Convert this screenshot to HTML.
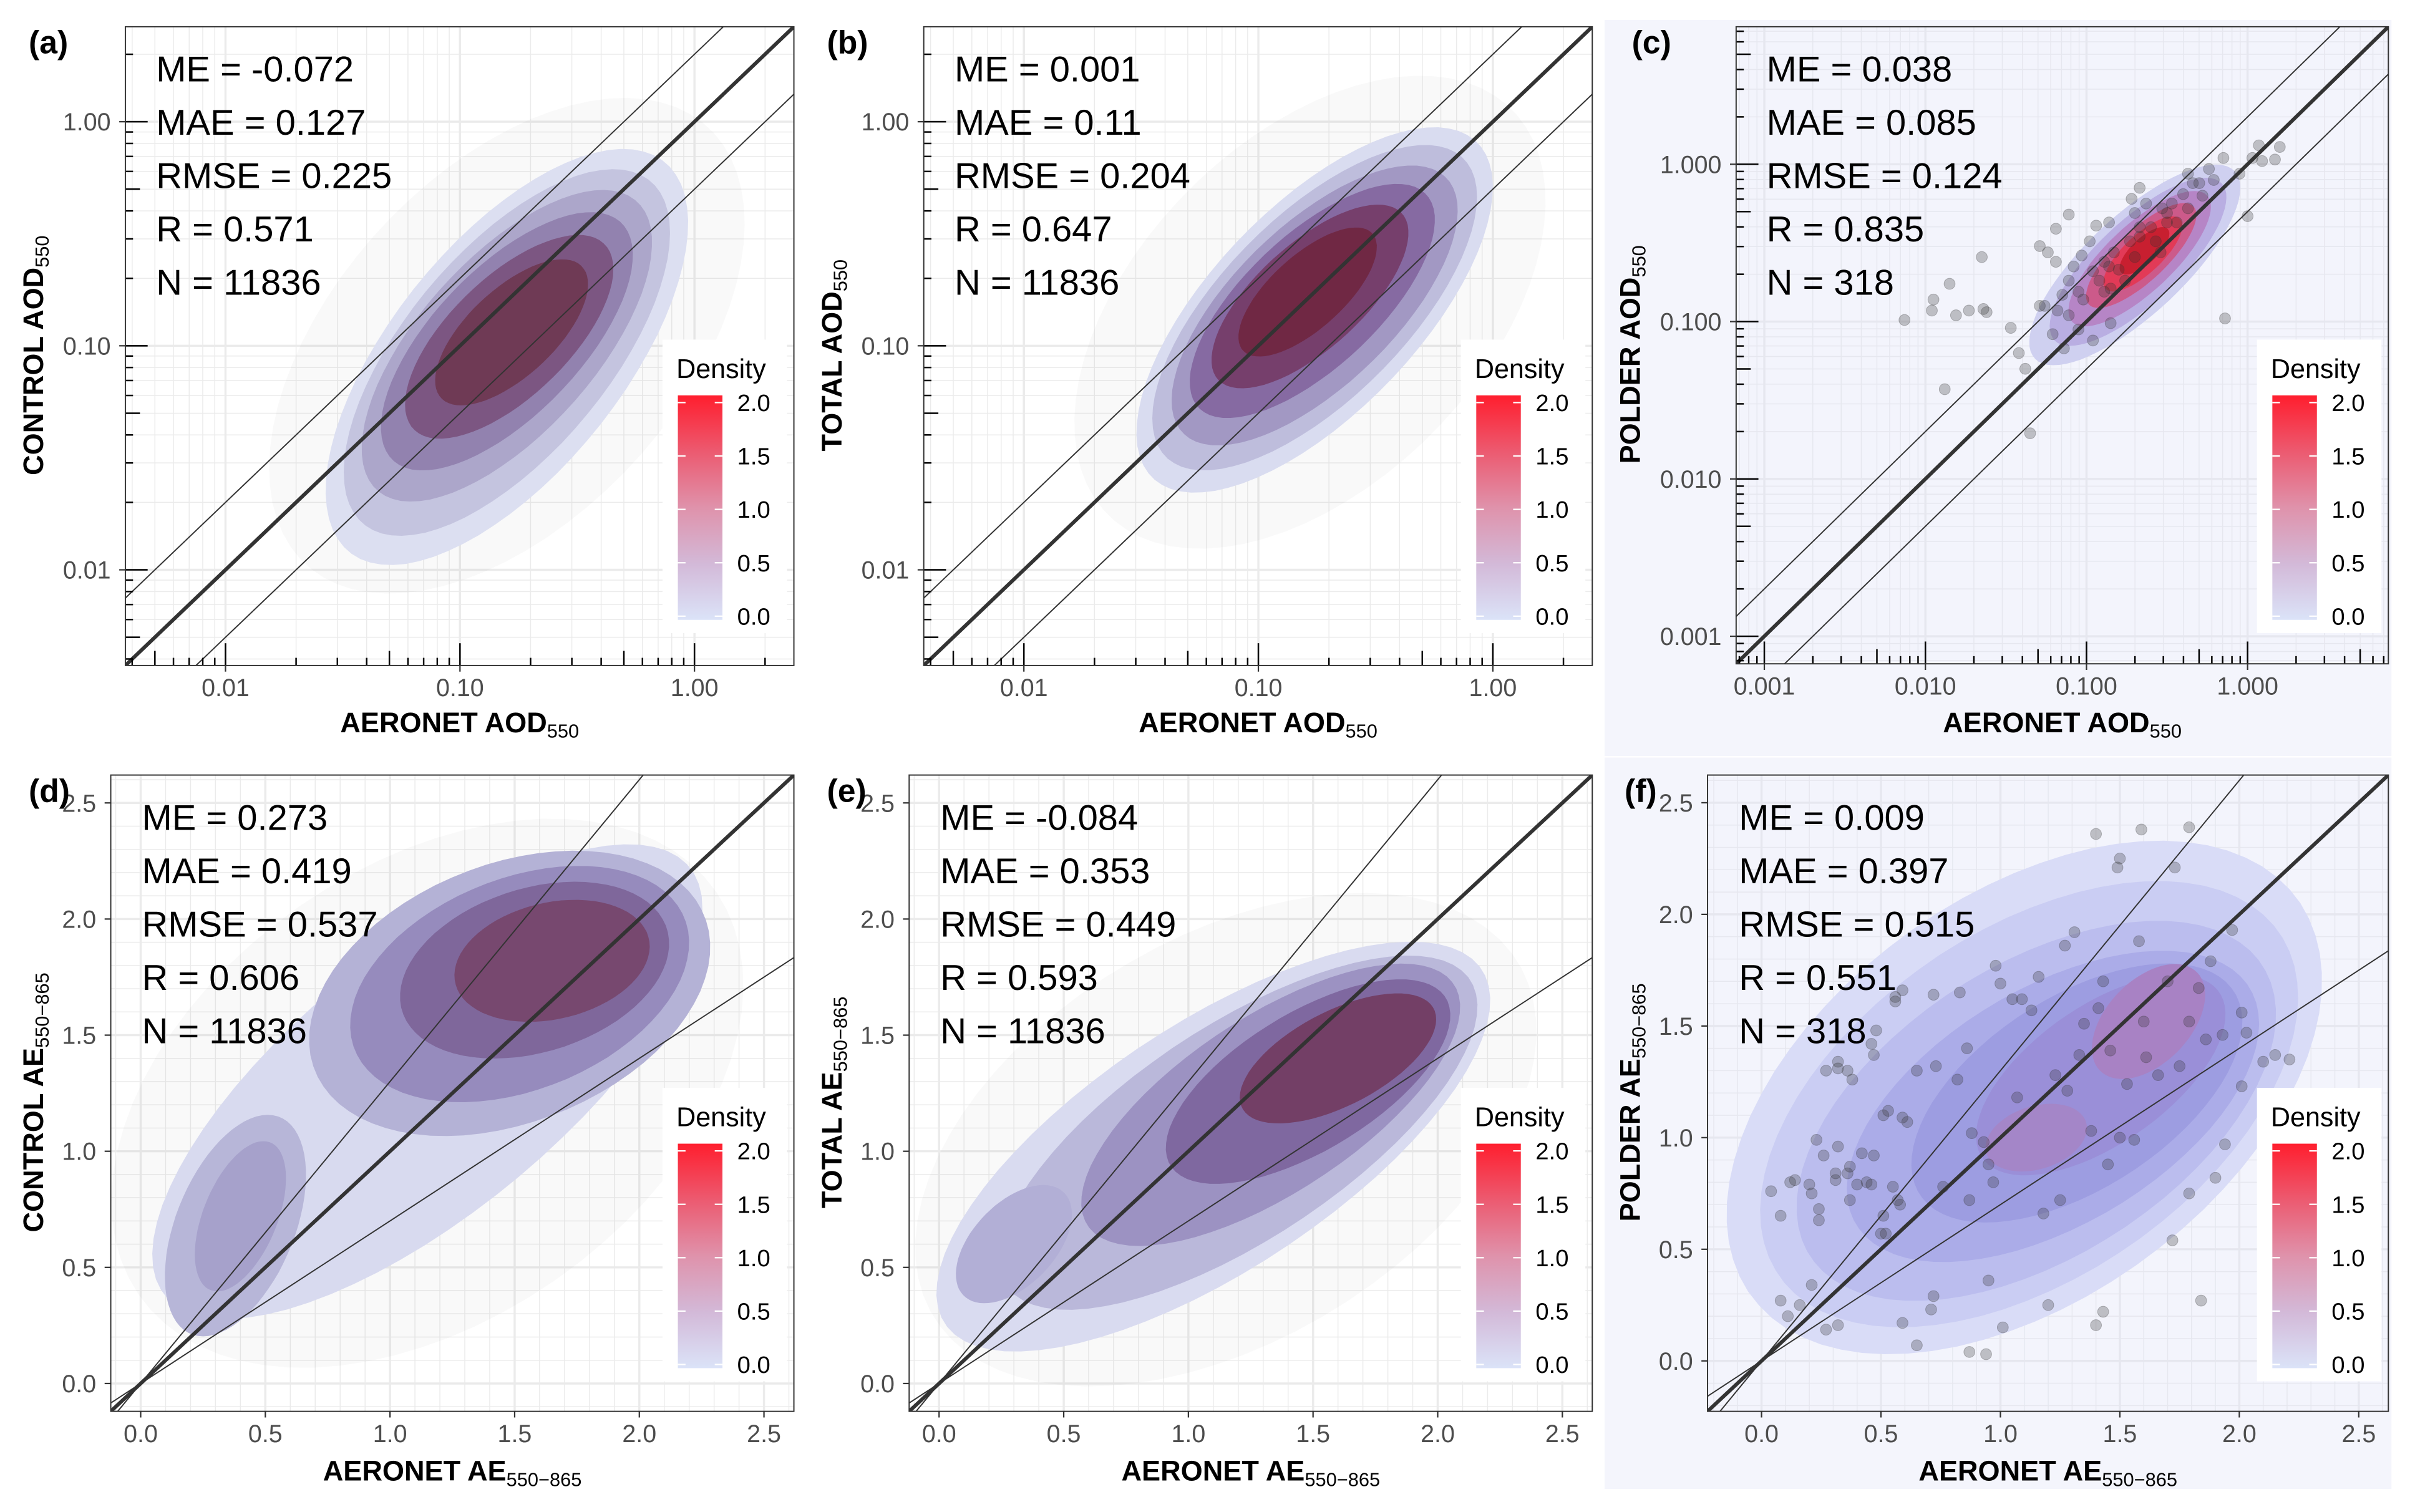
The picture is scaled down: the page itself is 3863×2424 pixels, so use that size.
<!DOCTYPE html>
<html><head><meta charset="utf-8"><title>Evaluation scatter density panels</title>
<style>
html,body{margin:0;padding:0;background:#fff;width:3863px;height:2424px;overflow:hidden;}
svg{display:block;font-family:"Liberation Sans",Arial,sans-serif;}
</style></head>
<body>
<svg id="fig" xmlns="http://www.w3.org/2000/svg" width="3863" height="2424" viewBox="0 0 1568 984">
<defs>
<linearGradient id="densGrad" x1="0" y1="1" x2="0" y2="0">
<stop offset="0" stop-color="#dbe3f8"/>
<stop offset="0.25" stop-color="#d3b9d8"/>
<stop offset="0.5" stop-color="#df92ab"/>
<stop offset="0.75" stop-color="#ec5a70"/>
<stop offset="1" stop-color="#ff1e2e"/>
</linearGradient>
</defs>
</svg>
<script>
// ---------- data ----------
const panelLetters = ['(a)','(b)','(c)','(d)','(e)','(f)'];
const yTitles = ['CONTROL AOD','TOTAL AOD','POLDER AOD','CONTROL AE','TOTAL AE','POLDER AE'];
const statsME = ['-0.072','0.001','0.038','0.273','-0.084','0.009'];
const statsMAE = ['0.127','0.11','0.085','0.419','0.353','0.397'];
const statsRMSE = ['0.225','0.204','0.124','0.537','0.449','0.515'];
const statsR = ['0.571','0.647','0.835','0.606','0.593','0.551'];
const statsN = ['11836','11836','318','11836','11836','318'];
const logTicksAB = [0.01, 0.1, 1];
const logTickLabelsAB = ['0.01','0.10','1.00'];
const logTicksC = [0.001, 0.01, 0.1, 1];
const logTickLabelsC = ['0.001','0.010','0.100','1.000'];
const linTicks = [0, 0.5, 1, 1.5, 2, 2.5];
const linTickLabels = ['0.0','0.5','1.0','1.5','2.0','2.5'];
const legendValues = [0, 0.5, 1, 1.5, 2];
const legendLabels = ['0.0','0.5','1.0','1.5','2.0'];
// density contour levels: [cx, cy, a, b, angleDeg] (log10 units for AOD, linear for AE)
const contoursA = [[-0.80,-1.05,1.10,0.50,53],[-0.80,-1.03,0.98,0.44,52],[-0.80,-1.00,0.85,0.38,50],[-0.80,-0.98,0.72,0.32,48],[-0.79,-0.96,0.58,0.26,46],[-0.78,-0.94,0.42,0.19,45]];
const contoursB = [[-0.76,-0.84,1.02,0.45,48],[-0.76,-0.83,0.92,0.40,47],[-0.76,-0.82,0.80,0.35,46],[-0.77,-0.80,0.68,0.29,45],[-0.78,-0.78,0.54,0.23,44],[-0.79,-0.76,0.38,0.16,44]];
const contoursC = [[-0.70,-0.64,0.86,0.31,44],[-0.68,-0.62,0.72,0.26,44],[-0.67,-0.60,0.58,0.21,44],[-0.66,-0.58,0.45,0.16,44],[-0.65,-0.57,0.32,0.12,44],[-0.64,-0.55,0.20,0.08,44]];
const contoursD = [[1.15,1.30,1.40,0.55,42],[0.38,0.68,0.50,0.24,70],[1.48,1.68,0.85,0.55,25],[0.40,0.72,0.34,0.15,70],[1.52,1.72,0.72,0.45,25],[1.58,1.78,0.56,0.35,20],[1.65,1.82,0.40,0.25,15]];
const contoursE = [[1.10,1.02,1.32,0.52,36],[1.20,1.08,1.14,0.45,36],[0.30,0.60,0.30,0.17,50],[1.33,1.20,0.90,0.37,36],[1.48,1.30,0.66,0.29,34],[1.60,1.40,0.44,0.20,30]];
const contoursF = [[1.10,1.18,1.45,0.88,40],[1.12,1.15,1.30,0.76,38],[1.15,1.12,1.15,0.64,36],[1.22,1.14,0.98,0.52,34],[1.32,1.20,0.80,0.42,36],[1.42,1.28,0.62,0.30,38],[1.62,1.52,0.30,0.18,50],[1.15,1.00,0.22,0.14,20]];
const colorsA = ['#dcdff1','#c4c4df','#aca6ca','#9282af','#7c5682','#6f3a55'];
const colorsB = ['#d9dcf0','#bebddc','#a298c3','#866aa2','#763f6c','#702844'];
const colorsC = ['#cfd0f0','#b9aee2','#b685c6','#cc5a8a','#e23a57','#c81f30'];
const colorsD = ['#d8daef','#b7b6d8','#b4b2d6','#a6a1cb','#968bbd','#7f679b','#77486f'];
const colorsE = ['#d9dbf0','#bab8da','#b2afd6','#9c92c2','#7f68a0','#733f66'];
const colorsF = ['#d9dcf7','#cacdf3','#bbbdee','#abace8','#9d9de1','#9a8fd8','#a882c4','#a486c8'];
// faint point-cloud extent (many translucent points)
const haloA = [-0.80,-1.00,1.30,0.75,50];
const haloB = [-0.78,-0.85,1.25,0.75,48];
const haloD = [1.15,1.25,1.45,0.95,40];
const haloE = [1.15,1.05,1.40,0.85,35];
// POLDER AOD points (log10 x, log10 y)
const pointsCx = [-2.13,-1.96,-1.95,-1.85,-1.81,-1.73,-1.65,-1.64,-1.62,-1.47,-1.42,-1.38,-1.35,-1.88,-1.29,-1.24,-1.19,-1.19,-1.11,-0.14,0.00,0.07,0.03,0.20,0.17,0.09,-0.15,-0.05,-0.94,-0.86,-0.67,-0.72,-1.21,-1.11,-1.05,-0.96,-0.89,-0.83,-0.73,-0.67,-0.60,-0.53,-0.47,-0.40,-0.34,-0.30,-0.89,-0.76,-1.02,-0.70,-0.57,-0.50,-0.44,-0.85,-0.98,-1.08,-1.15,-1.26,-1.29,-0.67,-0.54,-0.86,-0.50,-0.37,-0.28,-0.21,-0.24,-0.37,-0.63,-0.70,-0.80,-0.92,-1.05,-1.14,-0.96,-0.85,-1.18,-1.11,-1.03];
const pointsCy = [-0.99,-0.93,-0.86,-0.76,-0.96,-0.93,-0.59,-0.92,-0.94,-1.04,-1.20,-1.30,-1.71,-1.43,-0.52,-0.56,-0.41,-0.62,-0.32,-0.98,-0.33,0.12,0.04,0.11,0.03,0.02,0.04,-0.06,-0.39,-0.37,-0.15,-0.22,-1.08,-0.96,-0.81,-0.68,-0.62,-0.56,-0.49,-0.46,-0.40,-0.28,-0.25,-0.19,-0.12,-0.12,-0.81,-0.74,-0.86,-0.59,-0.49,-0.31,-0.37,-0.79,-0.49,-0.65,-0.83,-0.90,-0.90,-0.40,-0.56,-0.65,-0.37,-0.28,-0.20,-0.10,-0.03,-0.06,-0.25,-0.31,-0.67,-0.74,-1.05,-1.17,-1.12,-1.01,-0.93,-0.74,-0.58];
// POLDER AE points
const pointsFx = [0.04,0.08,0.12,0.14,0.20,0.21,0.23,0.24,0.24,0.26,0.27,0.32,0.32,0.36,0.38,0.31,0.31,0.36,0.37,0.32,0.37,0.40,0.44,0.42,0.47,0.46,0.52,0.51,0.50,0.55,0.57,0.58,0.51,0.53,0.59,0.61,0.65,0.59,0.56,0.56,0.47,0.46,0.48,0.72,0.73,0.76,0.82,0.83,0.86,0.87,0.88,0.93,0.95,0.97,0.98,1.00,1.05,1.07,1.09,1.13,1.16,1.18,1.23,1.25,1.28,1.27,1.31,1.33,1.35,1.38,1.41,1.43,1.45,1.46,1.50,1.53,1.56,1.58,1.60,1.61,1.66,1.70,1.75,1.79,1.83,1.86,1.88,1.93,2.10,0.08,0.11,0.16,0.21,0.27,0.32,0.59,0.65,0.87,0.94,1.01,0.72,0.71,0.95,1.20,1.40,1.43,1.84,1.72,1.79,1.90,1.94,2.01,2.15,2.21,2.03,2.01,1.97,1.73,1.59,1.79,1.49,1.40,1.50];
const pointsFy = [0.76,0.65,0.80,0.81,0.79,0.75,0.99,0.63,0.68,0.92,1.30,1.31,1.34,1.30,1.26,0.84,0.81,0.84,0.72,0.96,0.87,0.79,0.80,0.93,0.92,0.79,0.57,0.65,0.57,0.78,0.72,0.70,1.10,1.12,1.09,1.07,1.30,1.66,1.61,1.63,1.37,1.42,1.48,1.64,1.32,0.78,1.26,1.65,1.40,0.72,1.02,0.98,0.88,0.80,1.77,1.69,1.62,1.18,1.62,1.57,1.72,0.66,1.28,0.72,1.21,1.86,1.92,1.37,1.51,1.03,1.58,1.70,0.88,1.39,1.00,1.24,0.99,1.88,1.52,1.36,1.28,1.70,1.32,1.52,1.67,1.44,1.79,1.46,1.34,0.27,0.20,0.25,0.34,0.14,0.16,0.17,0.07,0.04,0.03,0.15,0.29,0.23,0.36,0.25,0.16,0.22,0.27,0.54,0.75,0.82,0.97,1.23,1.37,1.35,1.47,1.56,1.93,2.21,2.38,2.39,2.21,2.36,2.25];

// ---------- layout ----------
const NS = 'http://www.w3.org/2000/svg';
const svg = document.getElementById('fig');
function mk(tag, attrs, parent) {
  const el = document.createElementNS(NS, tag);
  for (const k in attrs) el.setAttribute(k, attrs[k]);
  (parent || svg).appendChild(el);
  return el;
}
const panels = [
  {kind:'log', x0:81.5, x1:516.5, y0:17.4, y1:433.1, r:[-2.427,0.424], ticks:logTicksAB, labels:logTickLabelsAB, cont:contoursA, cols:colorsA, halo:haloA, bg:null},
  {kind:'log', x0:601, x1:1036, y0:17.4, y1:433.1, r:[-2.427,0.424], ticks:logTicksAB, labels:logTickLabelsAB, cont:contoursB, cols:colorsB, halo:haloB, bg:null},
  {kind:'log', x0:1129.6, x1:1554, y0:17.4, y1:432, r:[-3.175,0.874], ticks:logTicksC, labels:logTickLabelsC, cont:contoursC, cols:colorsC, halo:null, bg:[1044,13,512,479], px:pointsCx, py:pointsCy},
  {kind:'lin', x0:72, x1:516.5, y0:504.4, y1:918.5, r:[-0.12,2.62], ticks:linTicks, labels:linTickLabels, cont:contoursD, cols:colorsD, halo:haloD, bg:null},
  {kind:'lin', x0:591.5, x1:1036, y0:504.4, y1:918.5, r:[-0.12,2.62], ticks:linTicks, labels:linTickLabels, cont:contoursE, cols:colorsE, halo:haloE, bg:null},
  {kind:'lin', x0:1111, x1:1554, y0:504.4, y1:918.5, r:[-0.226,2.624], ticks:linTicks, labels:linTickLabels, cont:contoursF, cols:colorsF, halo:null, bg:[1044,493,512,476], px:pointsFx, py:pointsFy}
];
const stroke = '#333333';

panels.forEach((p, i) => {
  const isLog = p.kind === 'log';
  const tr = v => isLog ? Math.log10(v) : v;
  const sx = u => p.x0 + (u - p.r[0]) / (p.r[1] - p.r[0]) * (p.x1 - p.x0);
  const sy = v => p.y1 - (v - p.r[0]) / (p.r[1] - p.r[0]) * (p.y1 - p.y0);
  const shaded = !!p.bg;
  const g = mk('g', {});
  
  
  if (p.bg) {
    const bgr = mk('rect', {x:p.bg[0], y:p.bg[1], width:p.bg[2], height:p.bg[3], fill:'#f4f5fc'}, g);
    
    
  }
  const clipId = 'clip' + i;
  const cp = mk('clipPath', {id:clipId}, g);
  mk('rect', {x:p.x0, y:p.y0, width:p.x1-p.x0, height:p.y1-p.y0}, cp);
  const area = mk('rect', {x:p.x0, y:p.y0, width:p.x1-p.x0, height:p.y1-p.y0, fill: shaded ? '#f3f4fc' : '#ffffff'}, g);
  
  
  const inner = mk('g', {'clip-path':'url(#'+clipId+')'}, g);
  const gridCol = shaded ? '#e6e7ef' : '#ebebeb';
  const minorVals = [], majorVals = [];
  if (isLog) {
    for (let d = Math.floor(p.r[0]); d <= Math.ceil(p.r[1]); d++) {
      majorVals.push(d);
      for (let k = 2; k <= 9; k++) minorVals.push(d + Math.log10(k));
    }
  } else {
    for (let k = -3; k <= 27; k++) { if (k % 5 === 0) majorVals.push(k/10); else minorVals.push(k/10); }
  }
  minorVals.forEach(v => {
    const l1 = mk('line', {x1:sx(v), x2:sx(v), y1:p.y0, y2:p.y1, stroke:gridCol, 'stroke-width':0.6}, inner);
    
    
    const l2 = mk('line', {x1:p.x0, x2:p.x1, y1:sy(v), y2:sy(v), stroke:gridCol, 'stroke-width':0.6}, inner);
    
    
  });
  majorVals.forEach(v => {
    const l1 = mk('line', {x1:sx(v), x2:sx(v), y1:p.y0, y2:p.y1, stroke:gridCol, 'stroke-width':1.4}, inner);
    
    
    const l2 = mk('line', {x1:p.x0, x2:p.x1, y1:sy(v), y2:sy(v), stroke:gridCol, 'stroke-width':1.4}, inner);
    
    
  });
  const ell = (c) => {
    const th = c[4] * Math.PI / 180, pts = [];
    for (let t = 0; t < 72; t++) {
      const a = t / 72 * 2 * Math.PI;
      const u = c[0] + c[2]*Math.cos(th)*Math.cos(a) - c[3]*Math.sin(th)*Math.sin(a);
      const v = c[1] + c[2]*Math.sin(th)*Math.cos(a) + c[3]*Math.cos(th)*Math.sin(a);
      pts.push(sx(u).toFixed(1) + ',' + sy(v).toFixed(1));
    }
    return pts.join(' ');
  };
  if (p.halo) {
    const h = mk('polygon', {points:ell(p.halo), fill:'#000', 'fill-opacity':0.022}, inner);
    
    
  }
  p.cont.forEach((c, k) => {
    const poly = mk('polygon', {points:ell(c), fill:p.cols[k]}, inner);
    
    
  });
  if (p.px) {
    p.px.forEach((xv, k) => {
      const c = mk('circle', {cx:sx(xv), cy:sy(p.py[k]), r:3.6, fill:'#333', 'fill-opacity':0.28, stroke:'#333', 'stroke-opacity':0.3, 'stroke-width':0.4}, inner);
      
      
    });
  }
  const refs = isLog ? [[1,2.4],[2,0.8],[0.5,0.8]] : [[1,2.4],[1.3,0.8],[0.7,0.8]];
  refs.forEach((rf, k) => {
    const a = p.r[0] - 1, b = p.r[1] + 1;
    let ya, yb;
    if (isLog) { ya = a + Math.log10(rf[0]); yb = b + Math.log10(rf[0]); }
    else { ya = a * rf[0]; yb = b * rf[0]; }
    const ln = mk('line', {x1:sx(a), y1:sy(ya), x2:sx(b), y2:sy(yb), stroke:stroke, 'stroke-width':rf[1]}, inner);
    
    
  });
  if (isLog) {
    for (let d = Math.floor(p.r[0]); d <= Math.ceil(p.r[1]); d++) {
      for (let k = 1; k <= 9; k++) {
        const v = d + Math.log10(k);
        if (v < p.r[0] || v > p.r[1]) continue;
        const len = k === 1 ? 14.5 : (k === 5 ? 9.5 : 5);
        const t1 = mk('line', {x1:sx(v), x2:sx(v), y1:p.y1, y2:p.y1-len, stroke:'#000', 'stroke-width':1}, g);
        
        
        const t2 = mk('line', {x1:p.x0, x2:p.x0+len, y1:sy(v), y2:sy(v), stroke:'#000', 'stroke-width':1}, g);
        
        
      }
    }
  }
  const border = mk('rect', {x:p.x0, y:p.y0, width:p.x1-p.x0, height:p.y1-p.y0, fill:'none', stroke:'#333', 'stroke-width':0.8}, g);
  
  
  p.ticks.forEach((t, k) => {
    const v = tr(t);
    const xt = mk('line', {x1:sx(v), x2:sx(v), y1:p.y1, y2:p.y1+4, stroke:'#333', 'stroke-width':0.9}, g);
    
    
    const xl = mk('text', {x:sx(v), y:p.y1+20, 'text-anchor':'middle', 'font-size':16, fill:'#4d4d4d'}, g);
    xl.textContent = p.labels[k];
    
    
    const yt = mk('line', {x1:p.x0-4, x2:p.x0, y1:sy(v), y2:sy(v), stroke:'#333', 'stroke-width':0.9}, g);
    
    
    const yl = mk('text', {x:p.x0-9.5, y:sy(v)+5.7, 'text-anchor':'end', 'font-size':16, fill:'#4d4d4d'}, g);
    yl.textContent = p.labels[k];
    
    
  });
  const sub = isLog ? '550' : '550\u2212865';
  const xtitle = mk('text', {x:(p.x0+p.x1)/2, y: i < 3 ? 476.6 : 963.6, 'text-anchor':'middle', 'font-size':18.3, 'font-weight':'bold', fill:'#000'}, g);
  
  
  xtitle.appendChild(document.createTextNode(isLog ? 'AERONET AOD' : 'AERONET AE'));
  const xs = mk('tspan', {'font-size':12.5, 'font-weight':'normal', dy:3.5}, xtitle);
  xs.textContent = sub;
  const ycx = [22, 541.5, 1061, 22, 541.5, 1061][i];
  const ycy = (p.y0 + p.y1) / 2;
  const ytitle = mk('text', {x:ycx, y:ycy, 'text-anchor':'middle', 'font-size':18.3, 'font-weight':'bold', fill:'#000', transform:'rotate(-90 '+(ycx+6)+' '+ycy+')'}, g);
  
  
  ytitle.appendChild(document.createTextNode(yTitles[i]));
  const ys = mk('tspan', {'font-size':12.5, 'font-weight':'normal', dy:3.5}, ytitle);
  ys.textContent = sub;
  const lx = [18.6, 538, 1061.7, 18.6, 538, 1057][i];
  const ly = i < 3 ? 34.7 : 521.8;
  const pl = mk('text', {x:lx, y:ly, 'font-size':21, 'font-weight':'bold', fill:'#000'}, g);
  pl.textContent = panelLetters[i];
  
  
  const stx = [101.5, 621, 1149.4, 92.3, 611.8, 1131.4][i];
  const sty0 = i < 3 ? 53 : 540.1;
  const lines = ['ME = ' + statsME[i], 'MAE = ' + statsMAE[i], 'RMSE = ' + statsRMSE[i], 'R = ' + statsR[i], 'N = ' + statsN[i]];
  lines.forEach((s, k) => {
    const st = mk('text', {x:stx, y:sty0 + k*34.7, 'font-size':23.5, fill:'#000'}, g);
    st.textContent = s;
    
    
  });
  const bx = p.x1 - 85.5, by = p.y0 + 203.6;
  const lg = mk('g', {}, g);
  
  
  mk('rect', {x:bx, y:by, width:81, height:191, fill:'#ffffff'}, lg);
  const lt = mk('text', {x:bx+9, y:by+25, 'font-size':17.5, fill:'#000'}, lg);
  lt.textContent = 'Density';
  
  
  const bar = mk('rect', {x:bx+10, y:by+36.3, width:29, height:146.1, fill:'url(#densGrad)'}, lg);
  
  
  legendValues.forEach((v, k) => {
    const yy = by + 180 - v * 69.5;
    mk('line', {x1:bx+10, x2:bx+15, y1:yy, y2:yy, stroke:'#fff', 'stroke-width':0.9}, lg);
    mk('line', {x1:bx+34, x2:bx+39, y1:yy, y2:yy, stroke:'#fff', 'stroke-width':0.9}, lg);
    const ll = mk('text', {x:bx+48.6, y:yy+5.5, 'font-size':15.5, fill:'#000'}, lg);
    ll.textContent = legendLabels[k];
    
    
  });
});
</script>
</body></html>
